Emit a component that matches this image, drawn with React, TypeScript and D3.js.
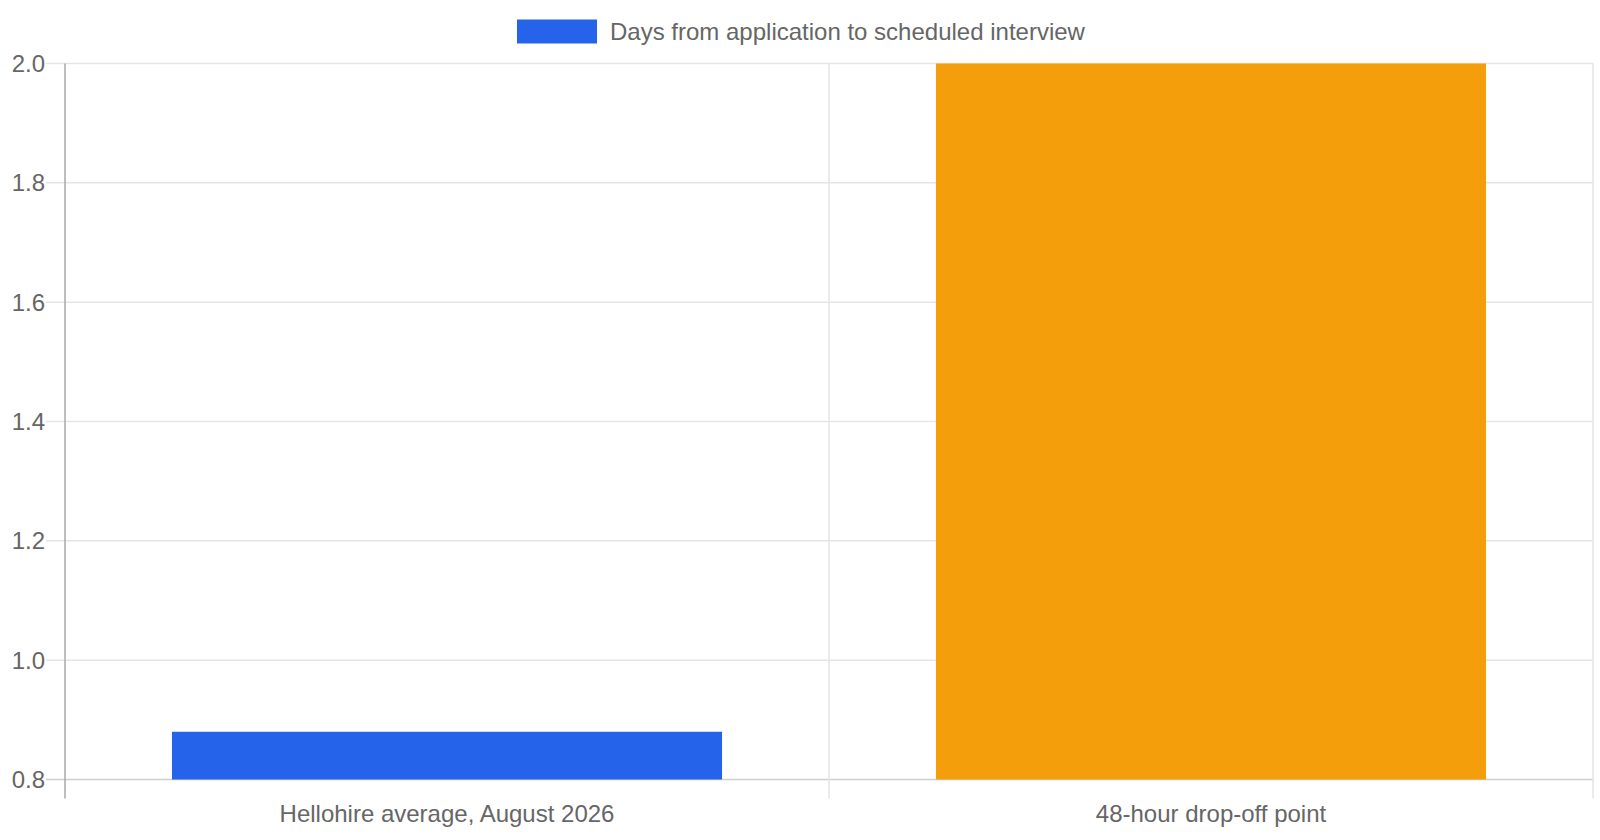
import { scaleBand, scaleLinear } from "d3";

const categories = ["Hellohire average, August 2026", "48-hour drop-off point"];
const values = [0.88, 2.0];
const barColors = ["#2563eb", "#f59e0b"];
const yTicks = [0.8, 1.0, 1.2, 1.4, 1.6, 1.8, 2.0];
const legendLabel = "Days from application to scheduled interview";

const width = 1600;
const height = 840;
const margin = { top: 63.5, right: 7, bottom: 60.5, left: 65 };
const font = "'Liberation Sans', Arial, sans-serif";
const textColor = "#666";

export default function App() {
  const x = scaleBand<string>()
    .domain(categories)
    .range([margin.left, width - margin.right])
    .paddingInner(0)
    .paddingOuter(0);
  const y = scaleLinear()
    .domain([0.8, 2.0])
    .range([height - margin.bottom, margin.top]);

  const bw = x.bandwidth();
  const barW = bw * 0.72; // category 0.8 * bar 0.9
  const bottom = y(0.8);

  // vertical grid at band edges
  const edges = [...categories.map((c) => x(c)!), x(categories[categories.length - 1])! + bw];

  return (
    <div style={{ position: "fixed", left: 0, top: 0 }}>
      <svg width={width} height={height} style={{ display: "block", background: "#fff" }}>
        {/* horizontal grid + ticks */}
        {yTicks.map((t) => (
          <g key={t}>
            <line
              x1={46}
              x2={width - margin.right}
              y1={y(t)}
              y2={y(t)}
              stroke={t === 0.8 ? "#cfcfcf" : "#e5e5e5"}
              strokeWidth={1.5}
            />
            <text
              x={45}
              y={y(t)}
              textAnchor="end"
              dominantBaseline="central"
              fontFamily={font}
              fontSize={24}
              fill={textColor}
            >
              {t.toFixed(1)}
            </text>
          </g>
        ))}
        {/* vertical grid */}
        {edges.map((ex, i) => (
          <line
            key={i}
            x1={ex}
            x2={ex}
            y1={margin.top}
            y2={bottom + 19}
            stroke={i === 0 ? "#a8a8a8" : "#e5e5e5"}
            strokeWidth={1.5}
          />
        ))}
        {/* bars */}
        {categories.map((c, i) => (
          <rect
            key={c}
            x={x(c)! + (bw - barW) / 2}
            y={y(values[i])}
            width={barW}
            height={bottom - y(values[i])}
            fill={barColors[i]}
          />
        ))}
        {/* category labels */}
        {categories.map((c) => (
          <text
            key={c}
            x={x(c)! + bw / 2}
            y={822}
            textAnchor="middle"
            fontFamily={font}
            fontSize={24}
            fill={textColor}
          >
            {c}
          </text>
        ))}
        {/* legend */}
        <rect x={517} y={19.5} width={80} height={24} fill={barColors[0]} />
        <text
          x={610}
          y={31.5}
          dominantBaseline="central"
          fontFamily={font}
          fontSize={24}
          fill={textColor}
        >
          {legendLabel}
        </text>
      </svg>
    </div>
  );
}
